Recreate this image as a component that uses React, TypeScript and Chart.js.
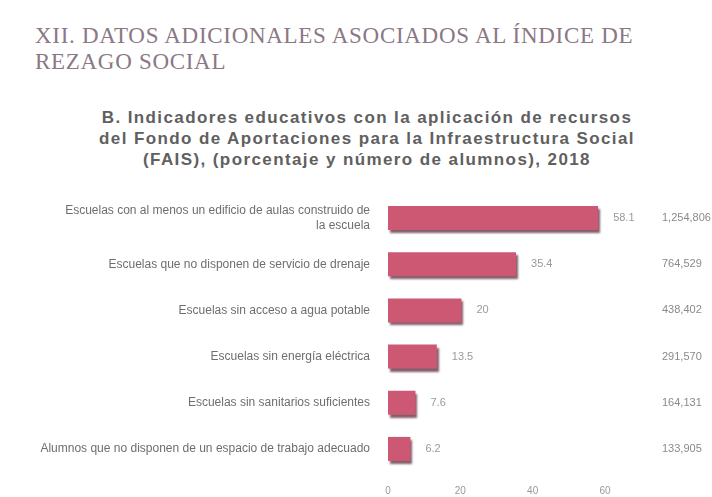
import React, { useEffect, useRef } from "react";
import { Chart, registerables } from "chart.js";

Chart.register(...registerables);

const titleLines = ["XII. DATOS ADICIONALES ASOCIADOS AL ÍNDICE DE", "REZAGO SOCIAL"];
const subtitleLines = [
  "B. Indicadores educativos con la aplicación de recursos",
  "del Fondo de Aportaciones para la Infraestructura Social",
  "(FAIS), (porcentaje y número de alumnos), 2018",
];
const categories: (string | string[])[] = [
  ["Escuelas con al menos un edificio de aulas construido de", "la escuela"],
  "Escuelas que no disponen de servicio de drenaje",
  "Escuelas sin acceso a agua potable",
  "Escuelas sin energía eléctrica",
  "Escuelas sin sanitarios suficientes",
  "Alumnos que no disponen de un espacio de trabajo adecuado",
];
const values = [58.1, 35.4, 20.3, 13.5, 7.6, 6.2];
const valueLabels = ["58.1", "35.4", "20", "13.5", "7.6", "6.2"];
const counts = ["1,254,806", "764,529", "438,402", "291,570", "164,131", "133,905"];
const xTicks = [0, 20, 40, 60];

export default function App() {
  const ref = useRef<HTMLCanvasElement>(null);
  useEffect(() => {
    document.body.style.margin = "0";
    const canvas = ref.current!;
    const extras = {
      id: "extras",
      beforeDatasetsDraw(chart: any) {
        const ctx = chart.ctx;
        ctx.save();
        ctx.shadowColor = "rgba(90,40,55,0.75)";
        ctx.shadowOffsetX = 2;
        ctx.shadowOffsetY = 3;
        ctx.shadowBlur = 2;
      },
      afterDatasetsDraw(chart: any) {
        const ctx = chart.ctx;
        ctx.restore();
        const meta = chart.getDatasetMeta(0);
        ctx.save();
        ctx.font = "11px 'Liberation Sans', sans-serif";
        ctx.textBaseline = "middle";
        meta.data.forEach((el: any, i: number) => {
          ctx.fillStyle = "#9a9a9a";
          ctx.textAlign = "left";
          ctx.fillText(valueLabels[i], el.x + 15, el.y);
          ctx.fillStyle = "#8a8a8a";
          ctx.fillText(counts[i], 662, el.y);
        });
        ctx.restore();
      },
    };
    const chart = new Chart(canvas, {
      type: "bar",
      data: {
        labels: categories,
        datasets: [
          {
            data: values,
            backgroundColor: "#cd5873",
            barPercentage: 0.52,
            categoryPercentage: 1,
          },
        ],
      },
      options: {
        indexAxis: "y",
        animation: false,
        responsive: false,
        events: [],
        layout: { padding: { top: 195, right: 107, bottom: 0, left: 0 } },
        plugins: { legend: { display: false }, tooltip: { enabled: false }, title: { display: false } },
        scales: {
          x: {
            min: 0,
            max: 60,
            afterBuildTicks: (axis: any) => {
              axis.ticks = xTicks.map((v) => ({ value: v }));
            },
            grid: { display: false, drawTicks: false },
            border: { display: false },
            ticks: { color: "#999", font: { size: 10, family: "'Liberation Sans', sans-serif" }, padding: 13 },
          },
          y: {
            afterFit: (scale: any) => {
              scale.width = 388;
            },
            grid: { display: false, drawTicks: false },
            border: { display: false },
            ticks: {
              color: "#6e6e6e",
              font: { size: 12, family: "'Liberation Sans', sans-serif" },
              padding: 18,
            },
          },
        },
      },
      plugins: [extras],
    } as any);
    return () => chart.destroy();
  }, []);

  return (
    <div style={{ position: "relative", width: 712, height: 497, background: "#fff", overflow: "hidden" }}>
      <div
        style={{
          position: "absolute",
          left: 35,
          top: 23,
          fontFamily: "'Liberation Serif', serif",
          fontSize: 23,
          lineHeight: "26px",
          color: "#8a7886",
          letterSpacing: 0.7,
          whiteSpace: "nowrap",
        }}
      >
        {titleLines.map((l, i) => (
          <div key={i}>{l}</div>
        ))}
      </div>
      <div
        style={{
          position: "absolute",
          left: 67,
          width: 600,
          top: 107,
          textAlign: "center",
          fontFamily: "'Liberation Sans', sans-serif",
          fontSize: 17,
          fontWeight: "bold",
          lineHeight: "21px",
          color: "#606060",
          letterSpacing: 1.4,
          whiteSpace: "nowrap",
        }}
      >
        {subtitleLines.map((l, i) => (
          <div key={i}>{l}</div>
        ))}
      </div>
      <canvas ref={ref} width={712} height={510} style={{ position: "absolute", left: 0, top: 0 }} />
    </div>
  );
}
